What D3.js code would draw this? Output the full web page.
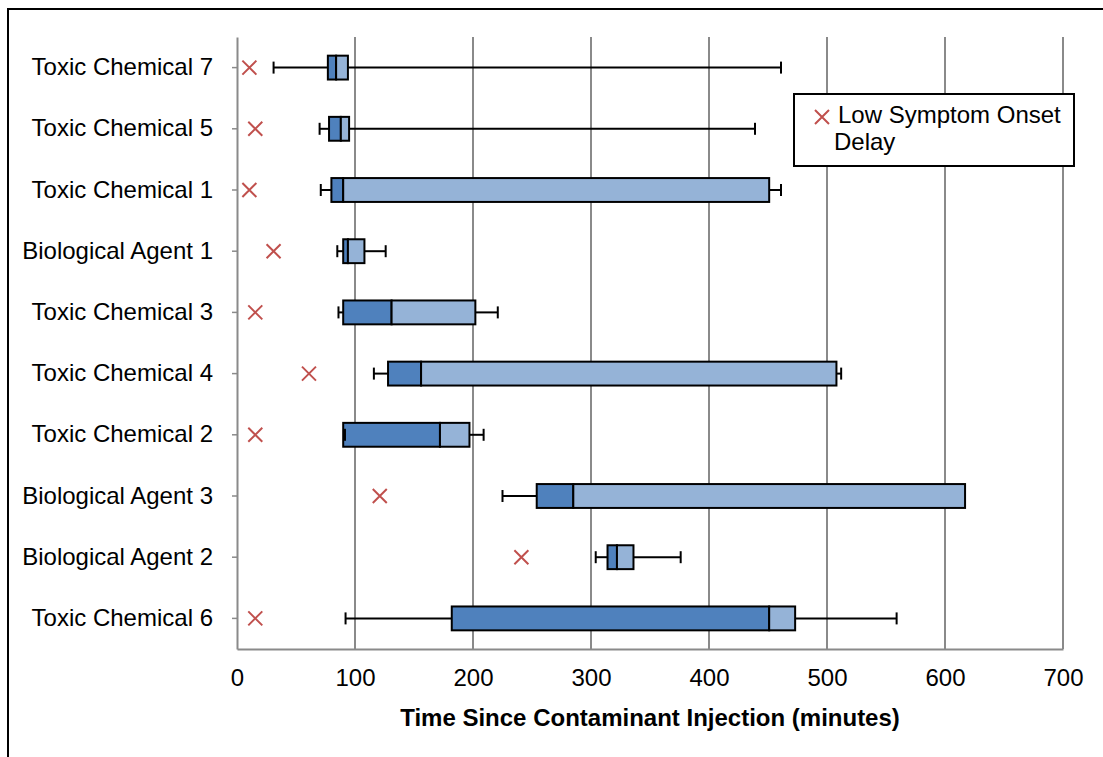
<!DOCTYPE html>
<html>
<head>
<meta charset="utf-8">
<script src="https://cdn.jsdelivr.net/npm/d3@7"></script>
<style>
  html, body { margin: 0; padding: 0; background: #fff; }
  svg { display: block; font-family: "Liberation Sans", Arial, sans-serif; }
</style>
</head>
<body>
<svg id="chart" width="1103" height="757"></svg>
<script>
// Onset-time distributions per contaminant (minutes after injection)
const categories = [
  "Toxic Chemical 7", "Toxic Chemical 5", "Toxic Chemical 1", "Biological Agent 1",
  "Toxic Chemical 3", "Toxic Chemical 4", "Toxic Chemical 2", "Biological Agent 3",
  "Biological Agent 2", "Toxic Chemical 6"
];
const whiskerLow  = [31, 70, 71, 85, 86, 116, 91.5, 225, 304, 92];
const q1          = [77, 78, 80, 90, 90, 128, 90, 254, 314, 182];
const median      = [84, 88, 90, 94, 131, 156, 172, 285, 322, 451];
const q3          = [94, 95, 451, 108, 202, 508, 197, 617, 336, 473];
const whiskerHigh = [461, 439, 461, 126, 221, 512, 209, 617, 376, 559];
const lowOnset    = [10.5, 15.5, 10.5, 31, 15.5, 61, 15.5, 121, 241, 15.5];
const xTicks = [0, 100, 200, 300, 400, 500, 600, 700];

const rows = categories.map((c, i) => ({
  name: c, lo: whiskerLow[i], q1: q1[i], med: median[i], q3: q3[i], hi: whiskerHigh[i], x: lowOnset[i]
}));

const svg = d3.select("#chart");
const m = { left: 237, top: 37, right: 1063, bottom: 649 };
const FONT = "24px";
const GRID = "#8a8a8a";
const DARK = "#4F81BD", LIGHT = "#95B3D7", MARK = "#C0504D";

// outer frame
svg.append("rect")
  .attr("x", 8).attr("y", 9).attr("width", 1200).attr("height", 800)
  .attr("fill", "none").attr("stroke", "#000").attr("stroke-width", 2);

const x = d3.scaleLinear().domain([0, 700]).range([m.left, m.right]);
const y = d3.scaleBand().domain(categories).range([m.top, m.bottom])
  .paddingInner(0.61).paddingOuter(0.305);

// vertical gridlines
svg.append("g").selectAll("line")
  .data(xTicks.filter(t => t > 0))
  .join("line")
  .attr("x1", d => x(d)).attr("x2", d => x(d))
  .attr("y1", m.top).attr("y2", m.bottom)
  .attr("stroke", GRID).attr("stroke-width", 2);

// x axis
const xAxis = svg.append("g")
  .attr("transform", `translate(0,${m.bottom})`)
  .call(d3.axisBottom(x).tickValues(xTicks).tickSize(0).tickSizeOuter(0).tickPadding(20));
xAxis.select(".domain").attr("stroke", GRID).attr("stroke-width", 2);
xAxis.selectAll("text").attr("font-size", FONT).attr("font-family", "Liberation Sans, Arial, sans-serif").attr("fill", "#000");

// y axis
const yAxis = svg.append("g")
  .attr("transform", `translate(${m.left},0)`)
  .call(d3.axisLeft(y).tickSize(5).tickSizeOuter(0).tickPadding(19));
yAxis.select(".domain").attr("stroke", GRID).attr("stroke-width", 2);
yAxis.selectAll(".tick line").attr("stroke", GRID).attr("stroke-width", 1.5);
yAxis.selectAll("text").attr("font-size", FONT).attr("font-family", "Liberation Sans, Arial, sans-serif").attr("fill", "#000");

const bw = y.bandwidth();
const cy = d => y(d.name) + bw / 2;

// lower half of the box (q1 → median)
svg.append("g").selectAll("rect")
  .data(rows).join("rect")
  .attr("x", d => x(d.q1)).attr("y", d => y(d.name))
  .attr("width", d => x(d.med) - x(d.q1)).attr("height", bw)
  .attr("fill", DARK).attr("stroke", "#000").attr("stroke-width", 2);

// upper half of the box (median → q3)
svg.append("g").selectAll("rect")
  .data(rows).join("rect")
  .attr("x", d => x(d.med)).attr("y", d => y(d.name))
  .attr("width", d => x(d.q3) - x(d.med)).attr("height", bw)
  .attr("fill", LIGHT).attr("stroke", "#000").attr("stroke-width", 2);

// whiskers with end caps
const capH = 12;
const wg = svg.append("g").attr("stroke", "#000").attr("stroke-width", 2);
rows.forEach(d => {
  const yc = cy(d);
  if (d.lo !== d.q1) {
    wg.append("line").attr("x1", x(d.lo)).attr("x2", x(d.q1)).attr("y1", yc).attr("y2", yc);
    wg.append("line").attr("x1", x(d.lo)).attr("x2", x(d.lo)).attr("y1", yc - capH / 2).attr("y2", yc + capH / 2);
  }
  if (d.hi !== d.q3) {
    wg.append("line").attr("x1", x(d.q3)).attr("x2", x(d.hi)).attr("y1", yc).attr("y2", yc);
    wg.append("line").attr("x1", x(d.hi)).attr("x2", x(d.hi)).attr("y1", yc - capH / 2).attr("y2", yc + capH / 2);
  }
});

// low symptom onset delay markers
const s = 7;
const xMark = (g, px, py) => {
  g.append("path")
    .attr("d", `M${px - s},${py - s}L${px + s},${py + s}M${px - s},${py + s}L${px + s},${py - s}`)
    .attr("stroke", MARK).attr("stroke-width", 2).attr("fill", "none");
};
const mg = svg.append("g");
rows.forEach(d => xMark(mg, x(d.x), cy(d)));

// axis title
svg.append("text")
  .attr("x", (m.left + m.right) / 2).attr("y", 726)
  .attr("text-anchor", "middle").attr("font-size", FONT).attr("font-weight", "bold")
  .text("Time Since Contaminant Injection (minutes)");

// legend
const lg = svg.append("g");
lg.append("rect").attr("x", 794).attr("y", 94).attr("width", 280).attr("height", 72)
  .attr("fill", "#fff").attr("stroke", "#000").attr("stroke-width", 2);
xMark(lg, 822, 117);
const lt = lg.append("text").attr("font-size", FONT);
lt.append("tspan").attr("x", 838).attr("y", 123).text("Low Symptom Onset");
lt.append("tspan").attr("x", 834).attr("y", 150).text("Delay");
</script>
</body>
</html>
